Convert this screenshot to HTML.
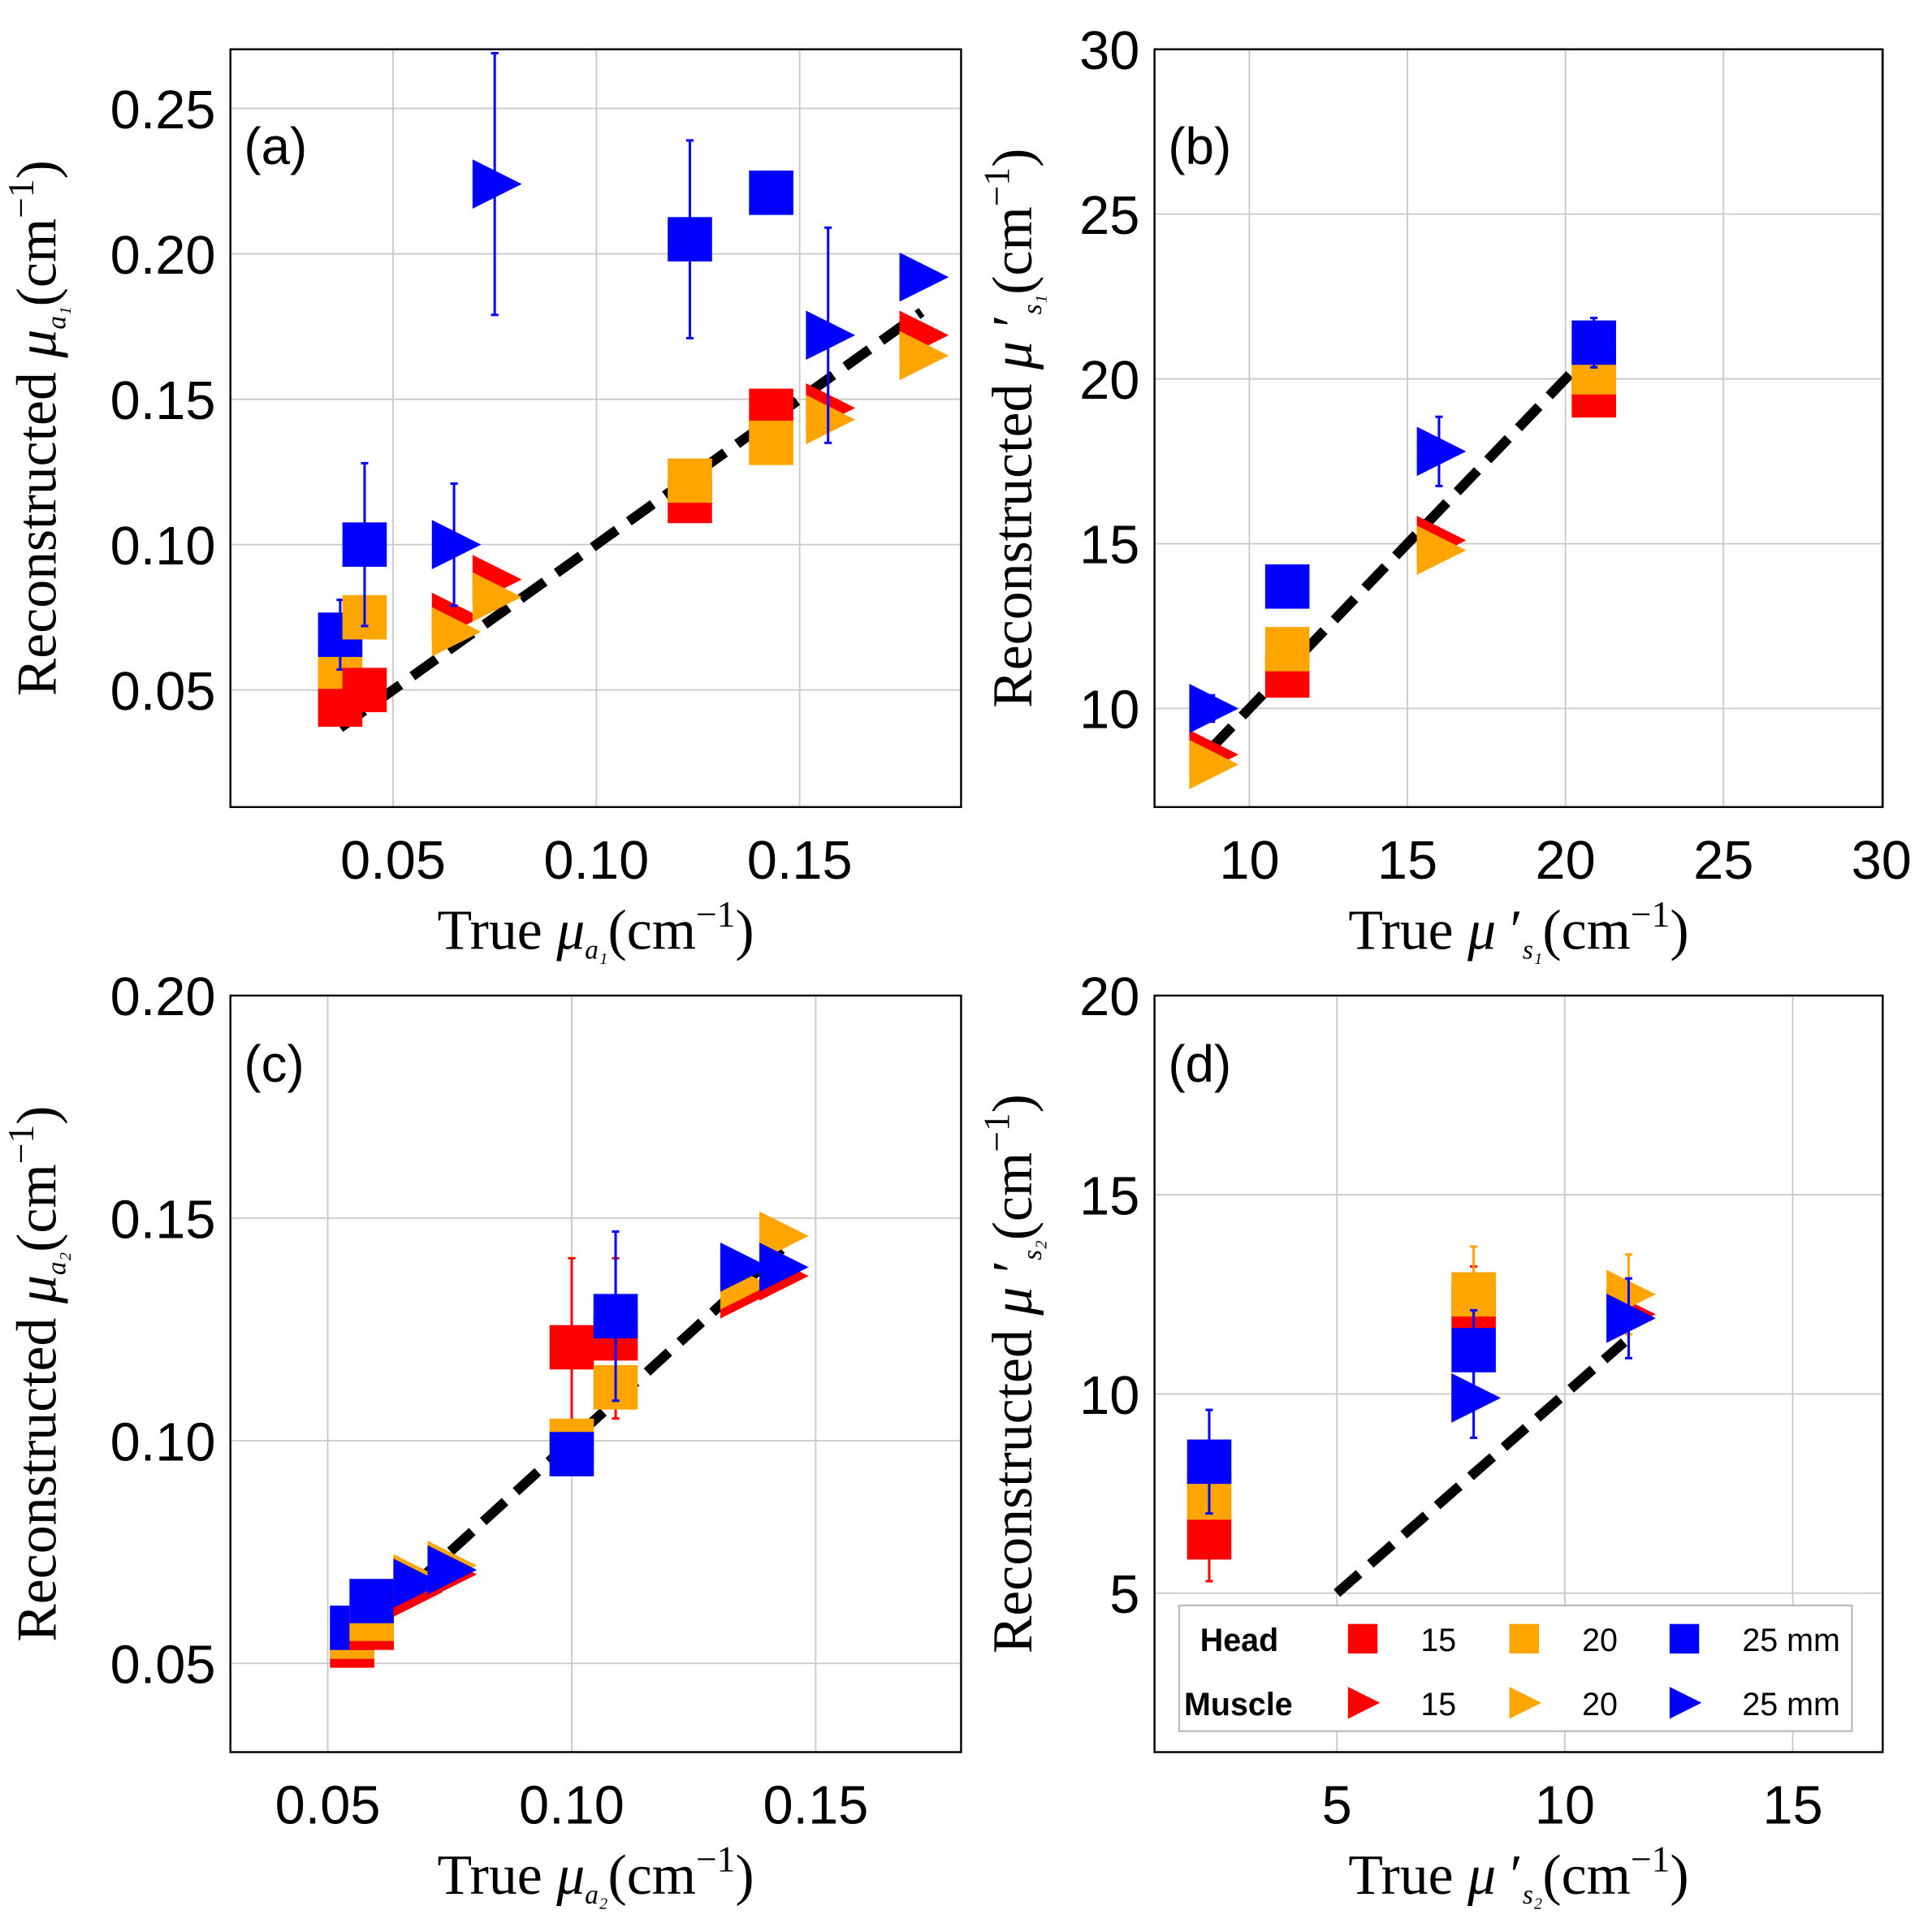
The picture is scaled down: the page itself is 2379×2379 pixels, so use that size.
<!DOCTYPE html>
<html><head><meta charset="utf-8"><style>
html,body{margin:0;padding:0;background:#fff;}
svg{display:block;}
.tick{font-family:"Liberation Sans",sans-serif;font-size:44px;fill:#000;}
.ttl{font-family:"Liberation Serif",serif;font-size:46px;fill:#000;}
.pl{font-family:"Liberation Sans",sans-serif;font-size:42px;fill:#000;}
.lg{font-family:"Liberation Sans",sans-serif;font-size:26px;fill:#000;}
</style></head><body>
<svg id="chart" width="2379" height="2379" viewBox="0 0 1568 1568" xmlns="http://www.w3.org/2000/svg"></svg>
<script>
// ---- data ----
const aHeadX=[0.037,0.043,0.123,0.143];
const aHeadR=[0.045,0.050,0.115,0.146];
const aHeadO=[0.058,0.075,0.122,0.135];
const aHeadB=[0.069,0.100,0.205,0.221];
const aHeadBErr=[0.012,0.028,0.034,0];
const aMusX=[0.065,0.075,0.157,0.180];
const aMusR=[0.075,0.088,0.147,0.172];
const aMusO=[0.070,0.082,0.143,0.165];
const aMusB=[0.100,0.224,0.172,0.192];
const aMusBErr=[0.021,0.045,0.037,0];
const aLine=[0.037,0.180];

const bHeadX=[11.2,20.9];
const bHeadR=[11.0,19.5];
const bHeadO=[11.8,20.2];
const bHeadB=[13.7,21.1];
const bHeadBErr=[0,0.75];
const bMusX=[8.8,16.0];
const bMusR=[8.6,15.1];
const bMusO=[8.3,14.8];
const bMusB=[10.0,17.8];
const bMusBErr=[0.4,1.05];
const bLine=[8.8,20.8];

const cHeadX=[0.055,0.059,0.100,0.109];
const cHeadR=[0.054,0.058,0.121,0.123];
const cHeadO=[0.056,0.060,0.100,0.112];
const cHeadB=[0.058,0.064,0.097,0.128];
const cHeadRErr=[0,0,0.020,0.018];
const cHeadBErr=[0,0,0,0.019];
const cMusX=[0.068,0.075,0.135,0.143];
const cMusR=[0.066,0.070,0.133,0.137];
const cMusO=[0.069,0.072,0.135,0.146];
const cMusB=[0.068,0.071,0.139,0.139];
const cLine=[0.055,0.143];

const dHeadX=[2.2,8.0];
const dHeadR=[6.4,12.2];
const dHeadO=[7.4,12.5];
const dHeadB=[8.3,11.1];
const dHeadRErr=[1.1,1.0];
const dHeadOErr=[0,1.2];
const dHeadBErr=[1.3,1.0];
const dMusX=[8.0,11.4];
const dMusR=[9.9,12.0];
const dMusO=[9.9,12.5];
const dMusB=[9.9,11.9];
const dMusBErr=[1.0,1.0];
const dMusOErr=[0,1.0];
const dLine=[5.0,11.3];

const aXT=[0.05,0.10,0.15], aYT=[0.05,0.10,0.15,0.20,0.25];
const bXT=[10,15,20,25,30], bYT=[10,15,20,25,30];
const cXT=[0.05,0.10,0.15], cYT=[0.05,0.10,0.15,0.20];
const dXT=[5,10,15], dYT=[5,10,15,20];

const RED='#ff0000', ORA='#ffa500', BLU='#0000ff';
const svg=document.getElementById('chart');
const NS='http://www.w3.org/2000/svg';
function mk(tag,attrs,parent){const e=document.createElementNS(NS,tag);for(const k in attrs)e.setAttribute(k,attrs[k]);(parent||svg).appendChild(e);return e;}
function lin(d0,d1,p0,p1){return v=>p0+(v-d0)*(p1-p0)/(d1-d0);}

function panel(o){
  const g=mk('g',{});
  
  
  const X=lin(o.xd[0],o.xd[1],o.xp[0],o.xp[1]);
  const Y=lin(o.yd[0],o.yd[1],o.yp[0],o.yp[1]);
  const [L,R,T,B]=o.box;
  o.xt.forEach(v=>{
    const l=mk('line',{x1:X(v),x2:X(v),y1:T,y2:B,stroke:'#c8c8c8','stroke-width':1.2},g);
    
    const t=mk('text',{x:X(v),y:B+58,class:'tick','text-anchor':'middle'},g);t.textContent=o.xf(v);
    
  });
  o.yt.forEach(v=>{
    const l=mk('line',{x1:L,x2:R,y1:Y(v),y2:Y(v),stroke:'#c8c8c8','stroke-width':1.2},g);
    
    const t=mk('text',{x:L-12,y:Y(v)+16,class:'tick','text-anchor':'end'},g);t.textContent=o.yf(v);
    
  });
  const fr=mk('rect',{x:L,y:T,width:R-L,height:B-T,fill:'none',stroke:'#000','stroke-width':1.6},g);
  
  const pl=mk('text',{x:L+11,y:T+o.ply,class:'pl'},g);pl.textContent='('+o.id+')';
  
  const xt=mk('text',{x:(L+R)/2,y:B+115,class:'ttl','text-anchor':'middle'},g);
  xt.innerHTML=o.xtitle;
  
  const yt=mk('text',{x:0,y:0,class:'ttl','text-anchor':'middle',transform:`translate(${L-o.yto},${(T+B)/2}) rotate(-90)`},g);
  yt.innerHTML=o.ytitle;
  
  const dl=mk('line',{x1:X(o.line[0]),y1:Y(o.line[0]),x2:X(o.line[1]),y2:Y(o.line[1]),stroke:'#000','stroke-width':8,'stroke-dasharray':'24,12'},g);
  
  function err(x,y,e,c){ if(!e) return;
    const l=mk('line',{x1:X(x),x2:X(x),y1:Y(y-e),y2:Y(y+e),stroke:c,'stroke-width':2},g);
    
    [y-e,y+e].forEach(w=>{const c2=mk('line',{x1:X(x)-3,x2:X(x)+3,y1:Y(w),y2:Y(w),stroke:c,'stroke-width':2},g);
      });
  }
  function sq(x,y,c,nm){const r=mk('rect',{x:X(x)-18,y:Y(y)-18,width:36,height:36,fill:c},g);
    }
  function tri(x,y,c,nm){const px=X(x),py=Y(y);
    const p=mk('polygon',{points:`${px-18},${py-20} ${px+22},${py} ${px-18},${py+20}`,fill:c},g);
    }
  const s=o.s;
  s.hx.forEach((x,i)=>{
    sq(x,s.hr[i],RED,'head-15mm-marker');err(x,s.hr[i],(s.hre||[])[i],RED);
    sq(x,s.ho[i],ORA,'head-20mm-marker');err(x,s.ho[i],(s.hoe||[])[i],ORA);
    err(x,s.hb[i],(s.hbe||[])[i],BLU);sq(x,s.hb[i],BLU,'head-25mm-marker');
  });
  s.mx.forEach((x,i)=>{
    tri(x,s.mr[i],RED,'muscle-15mm-marker');
    tri(x,s.mo[i],ORA,'muscle-20mm-marker');err(x,s.mo[i],(s.moe||[])[i],ORA);
    err(x,s.mb[i],(s.mbe||[])[i],BLU);tri(x,s.mb[i],BLU,'muscle-25mm-marker');
  });
  return {g,X,Y};
}
const f2=v=>v.toFixed(2), f0=v=>String(v);
function ttl(pre,sym,sub){return `${pre} <tspan font-style="italic">μ</tspan>${sym}<tspan font-size="22" font-style="italic" dy="8">${sub}</tspan><tspan dy="-8">(cm</tspan><tspan font-size="30" dy="-18">−1</tspan><tspan dy="18">)</tspan>`;}
panel({id:'a',box:[187,780,40,655],ply:93,yto:142,xd:[0.05,0.15],xp:[319,649],yd:[0.05,0.25],yp:[560,88],xt:aXT,yt:aYT,xf:f2,yf:f2,
  xtitle:ttl('True','','a₁'),ytitle:ttl('Reconstructed','','a₁'),line:aLine,
  s:{hx:aHeadX,hr:aHeadR,ho:aHeadO,hb:aHeadB,hbe:aHeadBErr,mx:aMusX,mr:aMusR,mo:aMusO,mb:aMusB,mbe:aMusBErr}});
panel({id:'b',box:[937,1528,40,655],ply:93,yto:100,xd:[10,30],xp:[1014,1527],yd:[10,30],yp:[575,40],xt:bXT,yt:bYT,xf:f0,yf:f0,
  xtitle:ttl('True',' ′','s₁'),ytitle:ttl('Reconstructed',' ′','s₁'),line:bLine,
  s:{hx:bHeadX,hr:bHeadR,ho:bHeadO,hb:bHeadB,hbe:bHeadBErr,mx:bMusX,mr:bMusR,mo:bMusO,mb:bMusB,mbe:bMusBErr}});
panel({id:'c',box:[187,780,808,1422],ply:70,yto:142,xd:[0.05,0.15],xp:[266,662],yd:[0.05,0.20],yp:[1350,808],xt:cXT,yt:cYT,xf:f2,yf:f2,
  xtitle:ttl('True','','a₂'),ytitle:ttl('Reconstructed','','a₂'),line:cLine,
  s:{hx:cHeadX,hr:cHeadR,hre:cHeadRErr,ho:cHeadO,hb:cHeadB,hbe:cHeadBErr,mx:cMusX,mr:cMusR,mo:cMusO,mb:cMusB}});
panel({id:'d',box:[937,1528,808,1422],ply:70,yto:100,xd:[5,15],xp:[1085,1455],yd:[5,20],yp:[1293,808],xt:dXT,yt:dYT,xf:f0,yf:f0,
  xtitle:ttl('True',' ′','s₂'),ytitle:ttl('Reconstructed',' ′','s₂'),line:dLine,
  s:{hx:dHeadX,hr:dHeadR,hre:dHeadRErr,ho:dHeadO,hoe:dHeadOErr,hb:dHeadB,hbe:dHeadBErr,mx:dMusX,mr:dMusR,mo:dMusO,moe:dMusOErr,mb:dMusB,mbe:dMusBErr}});
const lg=mk('g',{});


const lb=mk('rect',{x:957,y:1303,width:546,height:102,fill:'#fff',stroke:'#bbb','stroke-width':1.5},lg);

const rows=[['Head',1330,'sq'],['Muscle',1382,'tri']];
const cols=[[1106,RED,'15'],[1237,ORA,'20'],[1367,BLU,'25 mm']];
rows.forEach(r=>{
  const t=mk('text',{x:r[0]==='Head'?974:961,y:r[1]+10,class:'lg','font-weight':'bold'},lg);t.textContent=r[0];
  
  cols.forEach(c=>{
    let m;
    if(r[2]==='sq') m=mk('rect',{x:c[0]-12,y:r[1]-12,width:24,height:24,fill:c[1]},lg);
    else m=mk('polygon',{points:`${c[0]-12},${r[1]-13} ${c[0]+14},${r[1]} ${c[0]-12},${r[1]+13}`,fill:c[1]},lg);
    
    const tt=mk('text',{x:c[0]+47,y:r[1]+10,class:'lg'},lg);tt.textContent=c[2];
    
  });
});
</script>
</body></html>
